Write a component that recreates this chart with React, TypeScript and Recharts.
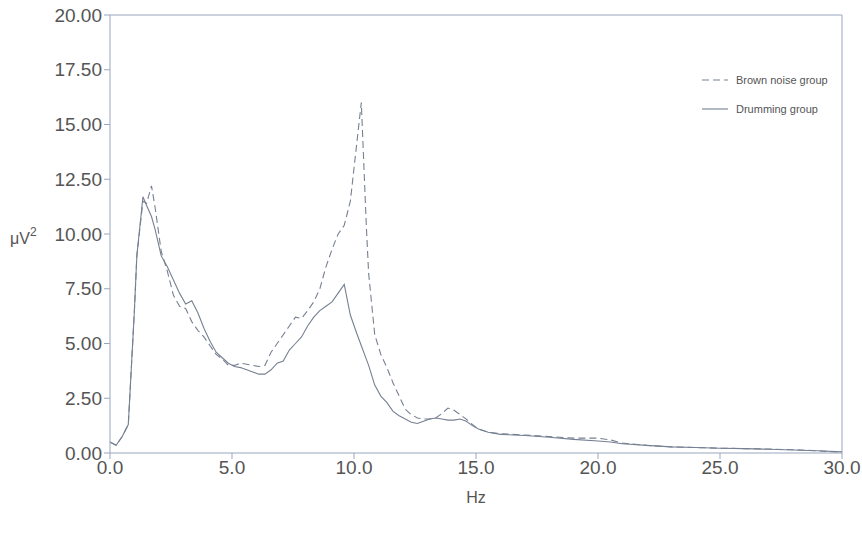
import { LineChart, Line, XAxis, YAxis, ReferenceLine } from 'recharts'

// frequency (Hz)
const HZ = [
  0, 0.25, 0.5, 0.75, 1.0, 1.1, 1.35, 1.5, 1.7, 1.85, 2.1, 2.35, 2.6, 2.85, 3.1, 3.35, 3.6, 3.85,
  4.1, 4.35, 4.6, 4.85, 5.1, 5.35, 5.6, 5.85, 6.1, 6.35, 6.6, 6.85, 7.1, 7.35, 7.6, 7.85, 8.1,
  8.35, 8.6, 8.85, 9.1, 9.35, 9.6, 9.85, 10.1, 10.3, 10.5, 10.6, 10.85, 11.1, 11.35, 11.6, 11.85,
  12.1, 12.35, 12.6, 12.85, 13.1, 13.35, 13.6, 13.85, 14.1, 14.35, 14.6, 14.85, 15.1, 15.5, 16,
  17, 18, 19, 20, 20.5, 21, 22, 23, 24, 25, 26, 27, 28, 29, 30,
]

const BROWN = [
  0.5, 0.35, 0.75, 1.3, 6.5, 9.0, 11.5, 11.4, 12.2, 11.2, 9.2, 8.3, 7.2, 6.7, 6.6, 6.0, 5.6, 5.3,
  4.9, 4.5, 4.3, 4.0, 4.0, 4.1, 4.05, 4.0, 3.95, 4.0, 4.6, 5.0, 5.4, 5.8, 6.2, 6.15, 6.5,
  6.9, 7.5, 8.5, 9.3, 10.0, 10.4, 11.5, 14.0, 16.0, 10.5, 8.2, 5.4, 4.5, 3.9, 3.2, 2.6,
  2.0, 1.75, 1.6, 1.55, 1.55, 1.6, 1.8, 2.05, 1.95, 1.75, 1.55, 1.3, 1.1, 0.95, 0.88,
  0.82, 0.75, 0.68, 0.68, 0.6, 0.45, 0.35, 0.28, 0.25, 0.22, 0.2, 0.18, 0.15, 0.1, 0.03,
]

const DRUM = [
  0.5, 0.35, 0.75, 1.3, 6.5, 9.0, 11.7, 11.3, 10.8, 10.2, 9.0, 8.5, 7.9, 7.3, 6.8, 6.95, 6.4, 5.7,
  5.1, 4.6, 4.35, 4.1, 3.95, 3.9, 3.8, 3.7, 3.6, 3.6, 3.8, 4.1, 4.2, 4.7, 5.0, 5.3, 5.8,
  6.2, 6.5, 6.7, 6.9, 7.3, 7.7, 6.3, 5.5, 4.9, 4.3, 4.0, 3.1, 2.6, 2.3, 1.9, 1.7,
  1.55, 1.4, 1.35, 1.45, 1.55, 1.6, 1.55, 1.5, 1.5, 1.55, 1.45, 1.25, 1.1, 0.95, 0.85,
  0.8, 0.72, 0.62, 0.55, 0.5, 0.42, 0.35, 0.28, 0.25, 0.22, 0.2, 0.17, 0.14, 0.1, 0.05,
]

const X_TICKS = [0, 5, 10, 15, 20, 25, 30]
const Y_TICKS = [0, 2.5, 5, 7.5, 10, 12.5, 15, 17.5, 20]
const SERIES = ['Brown noise group', 'Drumming group']

const data = HZ.map((hz, i) => ({ hz, brown: BROWN[i], drum: DRUM[i] }))

const AXIS = '#9aa6bd'
const LINE = '#768092'
const FONT = '"Liberation Sans", Arial, sans-serif'

function YLabel(props: any) {
  const { viewBox } = props
  const y = viewBox.y + viewBox.height / 2 + 10
  return (
    <text x={10} y={y} fill="#555" fontSize={16} fontFamily={FONT}>
      μV
      <tspan dy={-8} fontSize={12}>2</tspan>
    </text>
  )
}

// legend drawn on top of the chart, the way the original sits inside the plot
function LegendBox() {
  const dashes = ['7 4', undefined]
  return (
    <svg width={150} height={50} style={{ position: 'absolute', left: 700, top: 70 }}>
      {SERIES.map((label, i) => (
        <g key={label} transform={`translate(0, ${10 + i * 29})`}>
          <line x1={2} x2={28} y1={0} y2={0} stroke={LINE} strokeWidth={1.1} strokeDasharray={dashes[i]} />
          <text x={36} y={4} fill="#555" fontSize={11} fontFamily={FONT}>
            {label}
          </text>
        </g>
      ))}
    </svg>
  )
}

export default function App() {
  return (
    <div style={{ position: 'absolute', left: 0, top: 0, width: 862, height: 540, background: '#fff' }}>
      <LineChart width={862} height={540} data={data} margin={{ top: 15, right: 20, left: 0, bottom: 27 }}>
        <XAxis
          dataKey="hz"
          type="number"
          domain={[0, 30]}
          ticks={X_TICKS}
          tickFormatter={(v: number) => v.toFixed(1)}
          stroke={AXIS}
          tickSize={6}
          height={60}
          tick={{ fill: '#555', fontSize: 19, fontFamily: FONT }}
          label={{ value: 'Hz', position: 'insideBottom', offset: 10, fill: '#555', fontSize: 16, fontFamily: FONT }}
        />
        <YAxis
          type="number"
          domain={[0, 20]}
          ticks={Y_TICKS}
          tickFormatter={(v: number) => v.toFixed(2)}
          stroke={AXIS}
          tickSize={6}
          width={110}
          interval={0}
          tick={{ fill: '#555', fontSize: 19, fontFamily: FONT }}
          label={<YLabel />}
        />
        <ReferenceLine y={20} stroke={AXIS} />
        <ReferenceLine x={30} stroke={AXIS} />
        <Line
          type="linear"
          dataKey="brown"
          name={SERIES[0]}
          stroke={LINE}
          strokeWidth={1.1}
          strokeDasharray="7 4"
          dot={false}
          isAnimationActive={false}
        />
        <Line
          type="linear"
          dataKey="drum"
          name={SERIES[1]}
          stroke={LINE}
          strokeWidth={1.1}
          dot={false}
          isAnimationActive={false}
        />
      </LineChart>
      <LegendBox />
    </div>
  )
}
